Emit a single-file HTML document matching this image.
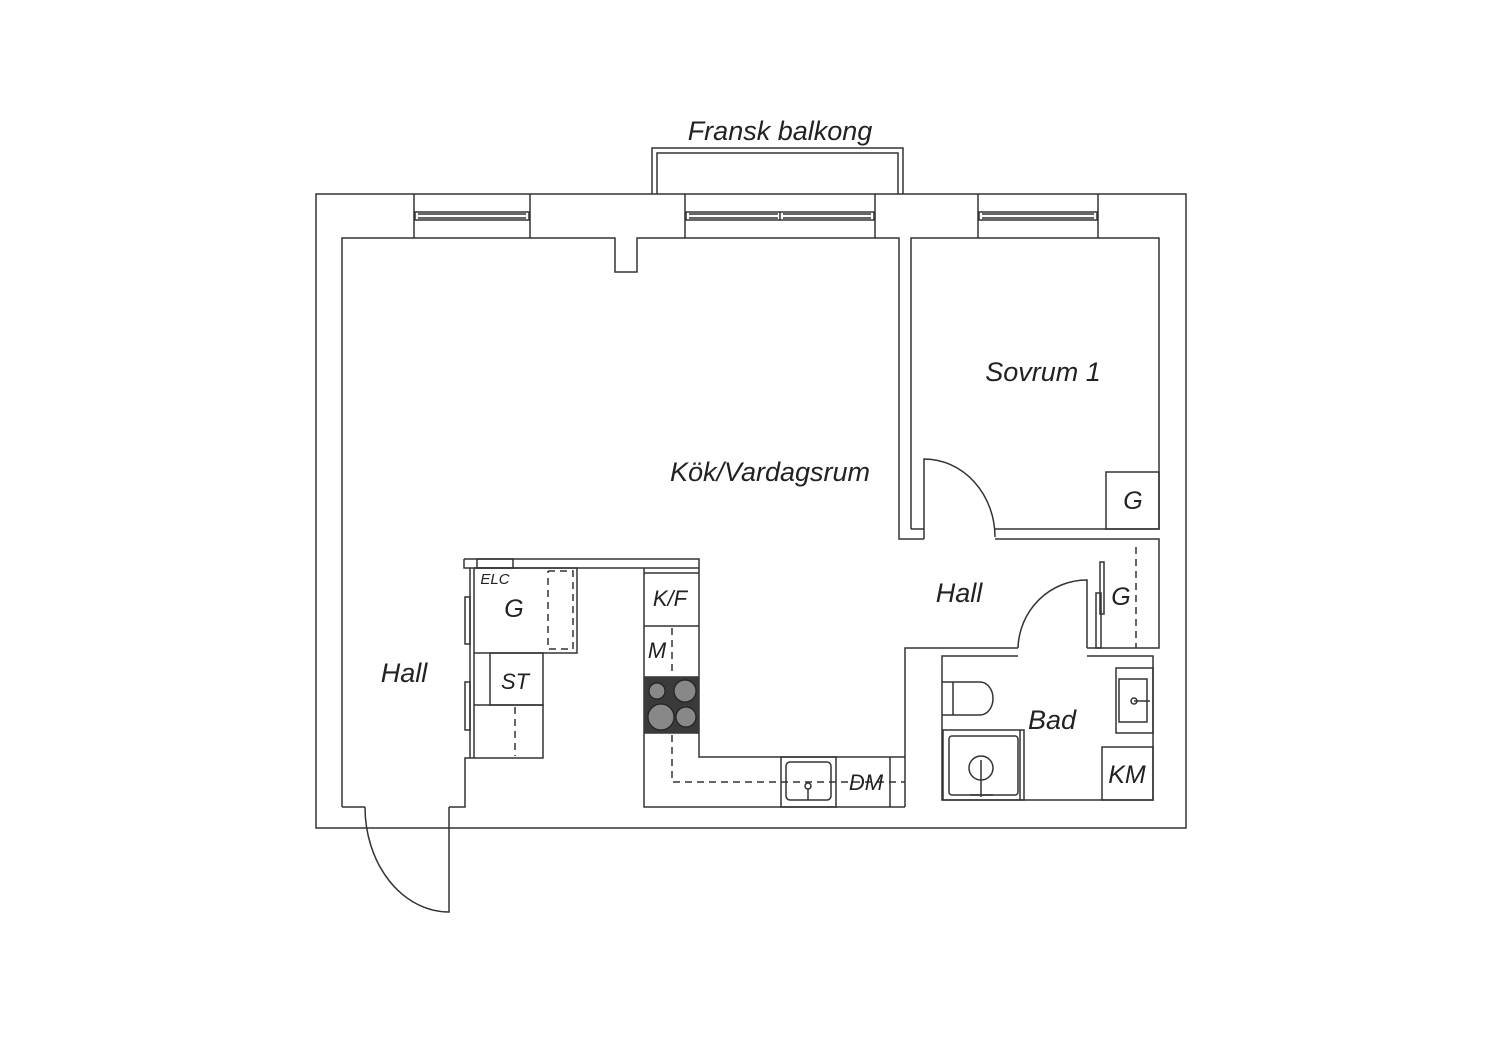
<!DOCTYPE html>
<html><head><meta charset="utf-8"><style>
html,body{margin:0;padding:0;background:#fff}
svg{display:block}
text{font-family:"Liberation Sans",sans-serif;font-style:italic;fill:#222}
</style></head><body>
<svg width="1500" height="1060" viewBox="0 0 1500 1060" xmlns="http://www.w3.org/2000/svg">
<g fill="none" stroke="#333" stroke-width="1.5">
<!-- outer -->
<rect x="316" y="194" width="870" height="634"/>
<!-- balcony -->
<path d="M652 194 V148 H903 V194"/>
<path d="M657 194 V153 H898 V194"/>
<!-- windows -->
<path d="M414 194 V238 M530 194 V238"/>
<rect x="415" y="212" width="114" height="8"/><path d="M418 214 H526 M418 218 H526"/>
<path d="M685 194 V238 M875 194 V238"/>
<rect x="686" y="212" width="188" height="8"/><path d="M689 214 H778 M783 214 H871 M689 218 H778 M783 218 H871 M780 212 V220"/>
<path d="M978 194 V238 M1098 194 V238"/>
<rect x="979" y="212" width="118" height="8"/><path d="M982 214 H1094 M982 218 H1094"/>
<!-- main room -->
<path d="M342 807 V238 H615 V272 H637 V238 H899 V539 H924"/>
<path d="M342 807 H365 M449 807 H465 V758 H474"/>
<!-- entry door -->
<path d="M449 807 V912 A84 105 0 0 1 365 807"/>
<!-- bedroom -->
<path d="M911 529 V238 H1159 V529 H995"/>
<path d="M911 529 H924"/>
<path d="M924 539 V459 A71 78 0 0 1 995 537"/>
<path d="M995 539 H1159 V648 H1087"/>
<rect x="1106" y="472" width="53" height="57"/>
<!-- hall closet right -->
<path d="M1136 547 V648" stroke-dasharray="7 5"/>
<rect x="1100" y="562" width="4" height="52"/>
<rect x="1096" y="593" width="5" height="55"/>
<path d="M1087 648 V580 A69 70 0 0 0 1018 648"/>
<path d="M905 807 V648 H1018 M1018 656 H942 V800 H1153 V656 H1087"/>
<!-- bath -->
<path d="M942 682 H980 A13 16.5 0 0 1 980 715 H942 M953 682 V715"/>
<rect x="943" y="730" width="81" height="70"/><path d="M1020 730 V800"/>
<rect x="949" y="736" width="69" height="59" rx="3"/>
<circle cx="981" cy="768" r="12"/><path d="M981 760 V797 M970 795 H993"/>
<rect x="1116" y="668" width="37" height="65"/>
<rect x="1119" y="679" width="28" height="43"/>
<path d="M1134 701 H1150"/><circle cx="1134" cy="701" r="3"/>
<rect x="1102" y="747" width="51" height="53"/>
<!-- left closets -->
<path d="M464 559 H699 V757 H905 M464 559 V568 H699"/>
<rect x="477" y="559" width="36" height="9"/>
<path d="M470 568 V758 M474 568 V758"/>
<rect x="465" y="597" width="5" height="47"/>
<rect x="465" y="682" width="5" height="48"/>
<path d="M474 568 H577 V653 H474"/>
<path d="M548 571 H573 V649 H548 V571" stroke-dasharray="7 5"/>
<rect x="490" y="653" width="53" height="52"/>
<path d="M474 705 H543 V758 H474"/>
<path d="M515 707 V756" stroke-dasharray="7 5"/>
<!-- kitchen -->
<path d="M644 568 V807 H905"/>
<path d="M644 573 H699 M644 626 H699 M644 677 H699 M644 733 H699"/>
<path d="M672 628 V675 M672 735 V782 H905" stroke-dasharray="7 5"/>
<rect x="781" y="757" width="55" height="50"/>
<rect x="786" y="762" width="45" height="38" rx="4"/>
<circle cx="808" cy="786" r="3"/><path d="M808 789 V800"/>
<path d="M890 757 V807"/>
</g>
<!-- stove -->
<rect x="644" y="677" width="55" height="56" fill="#3a3a3a"/>
<g stroke="#222" stroke-width="1.2" fill="#888">
<circle cx="657" cy="691" r="8"/><circle cx="685" cy="691" r="11"/>
<circle cx="661" cy="717" r="13"/><circle cx="686" cy="717" r="10"/>
</g>
<!-- labels -->
<g text-anchor="middle">
<text x="780" y="140" font-size="27">Fransk balkong</text>
<text x="1043" y="381" font-size="27">Sovrum 1</text>
<text x="770" y="481" font-size="27">Kök/Vardagsrum</text>
<text x="959" y="602" font-size="27">Hall</text>
<text x="404" y="682" font-size="27">Hall</text>
<text x="514" y="617" font-size="25">G</text>
<text x="495" y="584" font-size="15">ELC</text>
<text x="515" y="689" font-size="22">ST</text>
<text x="670" y="606" font-size="22">K/F</text>
<text x="657" y="658" font-size="22">M</text>
<text x="866" y="790" font-size="22">DM</text>
<text x="1133" y="509" font-size="25">G</text>
<text x="1121" y="605" font-size="25">G</text>
<text x="1052" y="729" font-size="27">Bad</text>
<text x="1127" y="783" font-size="25">KM</text>
</g>
</svg>
</body></html>
